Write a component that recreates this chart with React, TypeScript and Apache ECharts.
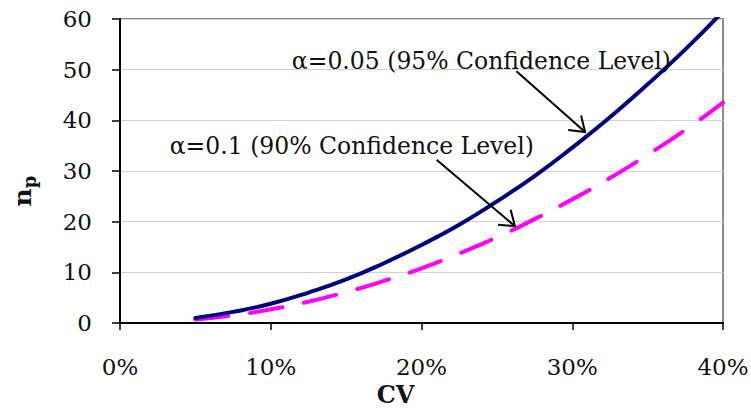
import React, { useEffect, useRef } from "react";
import * as echarts from "echarts";

// CV in percent
const cvValues = [5, 7.5, 10, 12.5, 15, 17.5, 20, 22.5, 25, 27.5, 30, 32.5, 35, 37.5, 40];
// alpha = 0.05 (95% confidence level)
const n95 = [1.0, 2.2, 3.8, 6.0, 8.6, 11.8, 15.4, 19.4, 24.0, 29.0, 34.6, 40.6, 47.1, 54.0, 61.5];
// alpha = 0.1 (90% confidence level)
const n90 = [0.7, 1.5, 2.7, 4.2, 6.1, 8.3, 10.8, 13.7, 16.9, 20.5, 24.4, 28.6, 33.2, 38.1, 43.5];

const xTickLabels = ["0%", "10%", "20%", "30%", "40%"];
const yTickLabels = ["0", "10", "20", "30", "40", "50", "60"];

const label95 = "α=0.05 (95% Confidence Level)";
const label90 = "α=0.1 (90% Confidence Level)";

// annotation anchors in data units [CV %, n]
const ann95Text = [11.4, 51.8];
const ann95From = [26.3, 49.7];
const ann95To = [30.85, 37.7];
const ann90Text = [3.3, 35.0];
const ann90From = [21.0, 32.2];
const ann90To = [26.2, 19.1];

const FONT = "'DejaVu Serif', 'Liberation Serif', serif";

export default function App() {
  const ref = useRef<HTMLDivElement>(null);
  useEffect(() => {
    if (!ref.current) return;
    document.body.style.margin = "0";
    const chart = echarts.init(ref.current, null, { renderer: "svg" });
    chart.setOption({
      animation: false,
      backgroundColor: "#ffffff",
      grid: {
        left: 120,
        right: 28,
        top: 19,
        bottom: 85,
        outerBoundsMode: "none",
        containLabel: false,
        show: true,
        borderColor: "#8c8c8c",
        borderWidth: 2,
        backgroundColor: "transparent",
      },
      xAxis: {
        type: "value",
        min: 0,
        max: 40,
        interval: 10,
        name: "CV",
        nameLocation: "middle",
        nameGap: 52,
        nameTextStyle: {
          fontFamily: FONT,
          fontSize: 24,
          fontWeight: "bold",
          color: "#111",
          lineHeight: 24,
          padding: [0, 52, 0, 0],
        },
        axisLine: { show: true, lineStyle: { color: "#000", width: 2 } },
        axisTick: { show: true, length: 7, lineStyle: { color: "#000", width: 1.5 } },
        axisLabel: {
          fontFamily: FONT,
          fontSize: 23,
          color: "#111",
          margin: 32,
          formatter: (_v: number, i: number) => xTickLabels[i],
        },
        splitLine: { show: false },
      },
      yAxis: {
        type: "value",
        min: 0,
        max: 60,
        interval: 10,
        name: "{n|n}{p|p}",
        nameLocation: "middle",
        nameGap: 82,
        nameRotate: 90,
        nameTextStyle: {
          padding: [0, 40, 0, 0],
          rich: {
            n: {
              fontFamily: FONT,
              fontSize: 25,
              fontWeight: "bold",
              color: "#111",
              lineHeight: 28,
              verticalAlign: "top",
            },
            p: {
              fontFamily: FONT,
              fontSize: 18,
              fontWeight: "bold",
              color: "#111",
              lineHeight: 28,
              verticalAlign: "bottom",
            },
          },
        },
        axisLine: { show: true, lineStyle: { color: "#000", width: 2 } },
        axisTick: { show: true, length: 8, lineStyle: { color: "#000", width: 1.5 } },
        axisLabel: {
          fontFamily: FONT,
          fontSize: 23,
          color: "#111",
          margin: 28,
          formatter: (_v: number, i: number) => yTickLabels[i],
        },
        splitLine: { show: true, lineStyle: { color: "#d3d3d3", width: 1 } },
      },
      series: [
        {
          type: "line",
          name: label95,
          data: cvValues.map((c, i) => [c, n95[i]]),
          smooth: true,
          symbol: "none",
          clip: true,
          lineStyle: { color: "#000080", width: 4, cap: "round" },
          z: 3,
        },
        {
          type: "line",
          name: label90,
          data: cvValues.map((c, i) => [c, n90[i]]),
          smooth: true,
          symbol: "none",
          clip: true,
          lineStyle: { color: "#ff00ff", width: 4, type: [33, 22], cap: "round" },
          z: 2,
        },
      ],
    });

    const px = (p: number[]) => chart.convertToPixel({ gridIndex: 0 }, p) as number[];
    const arrow = (from: number[], to: number[]) => {
      const a = px(from);
      const b = px(to);
      const ang = Math.atan2(b[1] - a[1], b[0] - a[0]);
      const L = 17;
      const spread = (35 * Math.PI) / 180;
      const h1 = [b[0] - L * Math.cos(ang - spread), b[1] - L * Math.sin(ang - spread)];
      const h2 = [b[0] - L * Math.cos(ang + spread), b[1] - L * Math.sin(ang + spread)];
      return [
        {
          type: "line",
          shape: { x1: a[0], y1: a[1], x2: b[0], y2: b[1] },
          style: { stroke: "#000", lineWidth: 2 },
          z: 10,
        },
        {
          type: "polyline",
          shape: { points: [h1, b, h2] },
          style: { stroke: "#000", lineWidth: 2, fill: "none" },
          z: 10,
        },
      ];
    };
    const text = (pos: number[], t: string) => {
      const p = px(pos);
      return {
        type: "text",
        x: p[0],
        y: p[1],
        z: 10,
        style: {
          text: t,
          fill: "#111",
          font: `23.5px ${FONT}`,
          textAlign: "left",
          textVerticalAlign: "middle",
        },
      };
    };
    chart.setOption({
      graphic: [
        text(ann95Text, label95),
        ...arrow(ann95From, ann95To),
        text(ann90Text, label90),
        ...arrow(ann90From, ann90To),
      ],
    });

    return () => chart.dispose();
  }, []);

  return <div ref={ref} style={{ width: 751, height: 408 }} />;
}
